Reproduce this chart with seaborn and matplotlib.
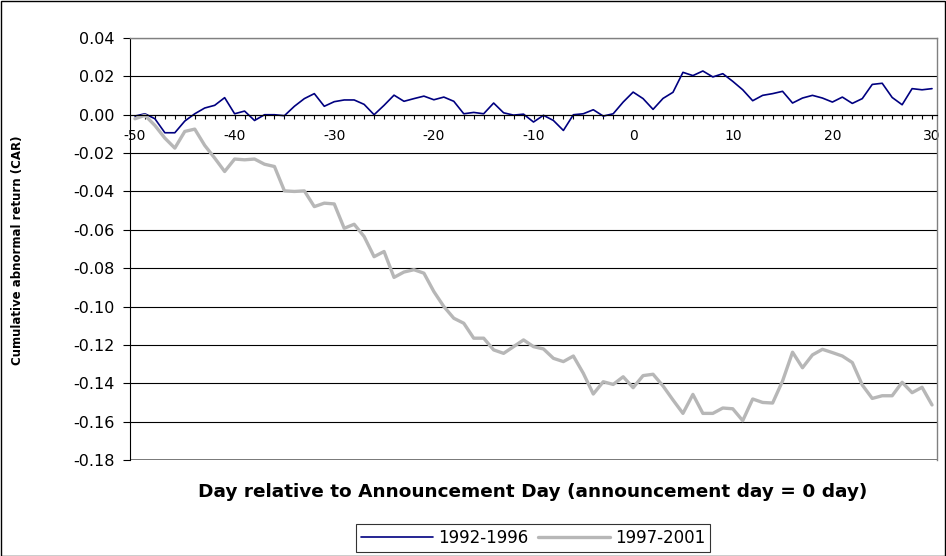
import matplotlib
matplotlib.use("Agg")
import matplotlib.pyplot as plt
import matplotlib.patches as mpatches
from matplotlib.ticker import FixedLocator, FuncFormatter
import seaborn as sns
import pandas as pd

# ---- data ----
days = list(range(-50, 31))
car_1992_1996 = [
    -0.0007, 0.0005, -0.0021, -0.0094, -0.0094, -0.0033, 0.0005, 0.0035, 0.0049, 0.0089,
    0.0005, 0.0019, -0.0030, 0.0000, 0.0000, -0.0005, 0.0044, 0.0084, 0.0110, 0.0044,
    0.0068, 0.0077, 0.0077, 0.0054, 0.0000, 0.0049, 0.0102, 0.0070, 0.0084, 0.0097,
    0.0078, 0.0092, 0.0070, 0.0005, 0.0012, 0.0005, 0.0061, 0.0010, -0.0002, 0.0003,
    -0.0038, -0.0003, -0.0030, -0.0082, 0.0000, 0.0005, 0.0026, -0.0007, 0.0005, 0.0066,
    0.0118, 0.0084, 0.0028, 0.0085, 0.0117, 0.0221, 0.0204, 0.0228, 0.0197, 0.0214,
    0.0174, 0.0130, 0.0073, 0.0101, 0.0110, 0.0122, 0.0061, 0.0087, 0.0101, 0.0087,
    0.0066, 0.0092, 0.0059, 0.0084, 0.0158, 0.0164, 0.0090, 0.0052, 0.0136, 0.0130, 0.0136,
]
car_1997_2001 = [
    -0.0021, -0.0003, -0.0056, -0.0122, -0.0174, -0.0087, -0.0075, -0.0160, -0.0226, -0.0296,
    -0.0231, -0.0235, -0.0231, -0.0258, -0.0270, -0.0397, -0.0400, -0.0397, -0.0479, -0.0461,
    -0.0465, -0.0592, -0.0571, -0.0635, -0.0740, -0.0713, -0.0848, -0.0820, -0.0808, -0.0826,
    -0.0922, -0.1000, -0.1061, -0.1087, -0.1165, -0.1165, -0.1226, -0.1244, -0.1209, -0.1174,
    -0.1209, -0.1221, -0.1270, -0.1287, -0.1258, -0.1348, -0.1456, -0.1392, -0.1406, -0.1366,
    -0.1423, -0.1360, -0.1353, -0.1414, -0.1487, -0.1557, -0.1458, -0.1557, -0.1557, -0.1529,
    -0.1533, -0.1595, -0.1482, -0.1500, -0.1503, -0.1388, -0.1238, -0.1319, -0.1252, -0.1223,
    -0.1240, -0.1258, -0.1292, -0.1409, -0.1479, -0.1465, -0.1465, -0.1395, -0.1449, -0.1421, -0.1513,
]
series_labels = ["1992-1996", "1997-2001"]
y_ticks = [0.04, 0.02, 0.00, -0.02, -0.04, -0.06, -0.08, -0.10, -0.12, -0.14, -0.16, -0.18]
x_tick_labels = [-50, -40, -30, -20, -10, 0, 10, 20, 30]
x_label = "Day relative to Announcement Day (announcement day = 0 day)"
y_label = "Cumulative abnormal return (CAR)"

df1 = pd.DataFrame({"day": days, "car": car_1992_1996})
df2 = pd.DataFrame({"day": days, "car": car_1997_2001})

sns.set_style("white")
plt.rcParams["font.family"] = ["DejaVu Sans"]
plt.rcParams["axes.unicode_minus"] = False
plt.rcParams["text.color"] = "black"
plt.rcParams["axes.labelcolor"] = "black"
plt.rcParams["xtick.color"] = "black"
plt.rcParams["ytick.color"] = "black"

fig = plt.figure(figsize=(9.46, 5.56), dpi=100)
ax = fig.add_axes([130 / 946, 1 - 460 / 556, (937 - 130) / 946, (460 - 38) / 556])

sns.lineplot(data=df1, x="day", y="car", ax=ax, color="#000080", linewidth=1.2,
             legend=False)
sns.lineplot(data=df2, x="day", y="car", ax=ax, color="#b7b7b7", linewidth=2.4,
             legend=False)

ax.set_xlim(-50.5, 30.5)
ax.set_ylim(-0.18, 0.04)

# y axis
ax.yaxis.set_major_locator(FixedLocator(y_ticks))
ax.yaxis.set_major_formatter(FuncFormatter(lambda v, p: f"{v:.2f}".replace("-0.00", "0.00")))
ax.tick_params(axis="y", which="major", direction="out", length=5, width=0.8,
               color="black", labelcolor="black", labelsize=11.5, pad=6, left=True)
ax.grid(axis="y", color="black", linewidth=0.8)
ax.grid(axis="x", visible=False)
ax.set_axisbelow(True)

# x axis crossing at y = 0
ax.spines["bottom"].set_position(("data", 0))
ax.spines["bottom"].set_color("black")
ax.spines["bottom"].set_linewidth(0.8)
ax.spines["left"].set_color("black")
ax.spines["left"].set_linewidth(0.8)
ax.spines["top"].set_color("#808080")
ax.spines["right"].set_color("#808080")
ax.spines["top"].set_linewidth(1.0)
ax.spines["right"].set_linewidth(1.0)
ax.axhline(-0.18, color="#808080", linewidth=1.4, zorder=0.5)

ax.xaxis.set_major_locator(FixedLocator(x_tick_labels))
ax.xaxis.set_minor_locator(FixedLocator(days))
ax.tick_params(axis="x", which="both", direction="out", length=3, width=0.8,
               color="black", bottom=True)
ax.tick_params(axis="x", which="major", labelsize=10, labelcolor="black", pad=7)

ax.set_xlabel("")
ax.set_ylabel("")
fig.text(533 / 946, 1 - 492 / 556, x_label, ha="center", va="center",
         fontsize=13.3, fontweight="bold", color="black")
fig.text(18 / 946, 1 - 250 / 556, y_label, ha="center", va="center",
         rotation=90, fontsize=8.5, fontweight="bold", color="black")

handles = ax.get_lines()[:2]
leg = fig.legend(handles, series_labels, loc="center",
                 bbox_to_anchor=(533 / 946, 1 - 538 / 556), ncol=2,
                 frameon=True, fancybox=False, shadow=False, fontsize=12,
                 handlelength=4.3, handletextpad=0.3, columnspacing=0.6,
                 borderpad=0.3)
leg.get_frame().set_edgecolor("black")
leg.get_frame().set_linewidth(0.8)
for t in leg.get_texts():
    t.set_color("black")

fig.add_artist(mpatches.Rectangle((0.5 / 946, 0.5 / 556), 944.5 / 946, 554.5 / 556,
                                  transform=fig.transFigure, fill=False,
                                  edgecolor="black", linewidth=1.0))

fig.savefig("out.png", dpi=100, facecolor="white")
